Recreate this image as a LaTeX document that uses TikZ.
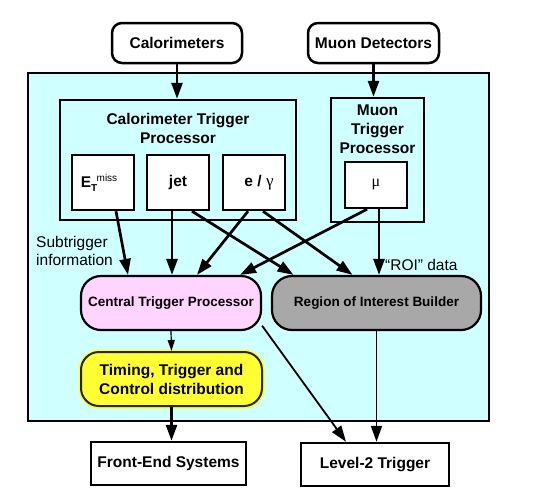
\documentclass[tikz,border=0pt]{standalone}
\usepackage{fontspec}
\setmainfont{Liberation Sans}
\newfontfamily\greekfont{Liberation Serif}
\usepackage{tikz}
\usetikzlibrary{shapes,arrows.meta,positioning}
\definecolor{levelcyan}{RGB}{208,255,255}
\definecolor{ctppink}{RGB}{255,212,255}
\definecolor{roigray}{RGB}{168,168,168}
\definecolor{ttcyellow}{RGB}{255,255,51}

\begin{document}
\begin{tikzpicture}[x=1pt,y=-1pt,
  box/.style={draw,line width=2.5pt,align=center,inner sep=0pt,
    font=\fontsize{15.5}{19}\selectfont\bfseries},
  roundbox/.style={box,rounded corners=10pt},
  bigbox/.style={box,line width=2.2pt,rounded corners=20pt,font=\fontsize{13.5}{17}\selectfont\bfseries},
  plain/.style={align=left,inner sep=0pt,font=\fontsize{15.5}{18}\selectfont},
  sig/.style={line width=2.7pt,-{Triangle[length=16pt,width=11pt]}},
  thinsig/.style={line width=1.2pt,-{Triangle[length=11pt,width=7pt]}},
  outsig/.style={line width=1.8pt,-{Triangle[length=16pt,width=11pt]}}]
\useasboundingbox (0,0) rectangle (543,501);

% Level-1 area
\node[box,fill=levelcyan,minimum width=461pt,minimum height=348pt] (lvlone) at (258.5,247) {};

% Detectors
\node[roundbox,minimum width=130pt,minimum height=40pt] (calo) at (177,43) {Calorimeters};
\node[roundbox,minimum width=131pt,minimum height=40pt] (muondet) at (373.5,43) {Muon Detectors};

% Calorimeter trigger processor
\node[box,minimum width=236pt,minimum height=120pt] (calotp) at (178,160) {};
\node[box,draw=none] (calotitle) at (178,128) {Calorimeter Trigger\\Processor};
\node[box,fill=white,minimum width=62pt,minimum height=55pt] (etmiss) at (103,182.5)
  {E\raisebox{-4pt}{\fontsize{10}{10}\selectfont T}\hspace{-0.5pt}\raisebox{6pt}{\fontsize{10}{10}\selectfont\mdseries miss}\hspace{8pt}};
\node[box,fill=white,minimum width=62pt,minimum height=55pt] (jet) at (178,182.5) {jet};
\node[box,fill=white,minimum width=62pt,minimum height=55pt] (egam) at (254,182.5)
  {\hspace{10pt}e / {\greekfont\mdseries\fontsize{17}{17}\selectfont γ}};

% Muon trigger processor
\node[box,minimum width=93pt,minimum height=124pt] (muontp) at (377.5,160) {};
\node[box,draw=none] (muontitle) at (377.5,129) {Muon\\Trigger\\Processor};
\node[box,fill=white,minimum width=62pt,minimum height=46pt] (mu) at (376,185)
  {{\greekfont\mdseries\fontsize{16}{16}\selectfont μ}};

% Central processing
\node[bigbox,fill=ctppink,minimum width=180pt,minimum height=54pt] (ctp) at (171,303) {Central Trigger Processor};
\node[bigbox,fill=roigray,minimum width=209pt,minimum height=54pt] (roib) at (376.5,303) {Region of Interest Builder};
\node[box,line width=2pt,draw=black!85,rounded corners=18pt,fill=ttcyellow,
  preaction={draw=ttcyellow,line width=5pt},minimum width=181pt,minimum height=54pt] (ttc) at (171.5,379)
  {Timing, Trigger and\\Control distribution};

% Outputs
\node[box,minimum width=155pt,minimum height=43pt] (frontend) at (168.5,463.5) {Front-End Systems};
\node[box,minimum width=148pt,minimum height=43pt] (levtwo) at (375,464.5) {Level-2 Trigger};

% Labels
\node[plain,anchor=west] (subtrig) at (36,251) {Subtrigger\\information};
\node[plain,anchor=west] (roidata) at (385,265) {“ROI” data};

% Connections
\draw[sig] (calo.south) -- (calo.south |- calotp.north);
\draw[sig] (muondet.south) -- (muondet.south |- muontp.north);
\draw[sig] ([xshift=13pt]etmiss.south) -- ([xshift=-43pt]ctp.north);
\draw[sig] ([xshift=-6pt]jet.south) -- ([xshift=1pt]ctp.north);
\draw[sig] ([xshift=-6pt]egam.south) -- ([xshift=26pt]ctp.north);
\draw[sig] ([xshift=14pt]jet.south) -- ([xshift=-83pt]roib.north);
\draw[sig] ([xshift=9pt]egam.south) -- ([xshift=-24pt]roib.north);
\draw[sig] ([xshift=-9pt]mu.south) -- ([xshift=69pt]ctp.north);
\draw[sig] ([xshift=3pt]mu.south) -- ([xshift=3pt]mu.south |- roib.north);
\draw[thinsig] (ctp.south) -- (ttc.north);
\draw[outsig] (ctp.-14) -- ([xshift=-29pt]levtwo.north);
\draw[outsig] (roib.south) -- (roib.south |- levtwo.north);
\draw[sig] (ttc.south) -- (ttc.south |- frontend.north);
\end{tikzpicture}
\end{document}
